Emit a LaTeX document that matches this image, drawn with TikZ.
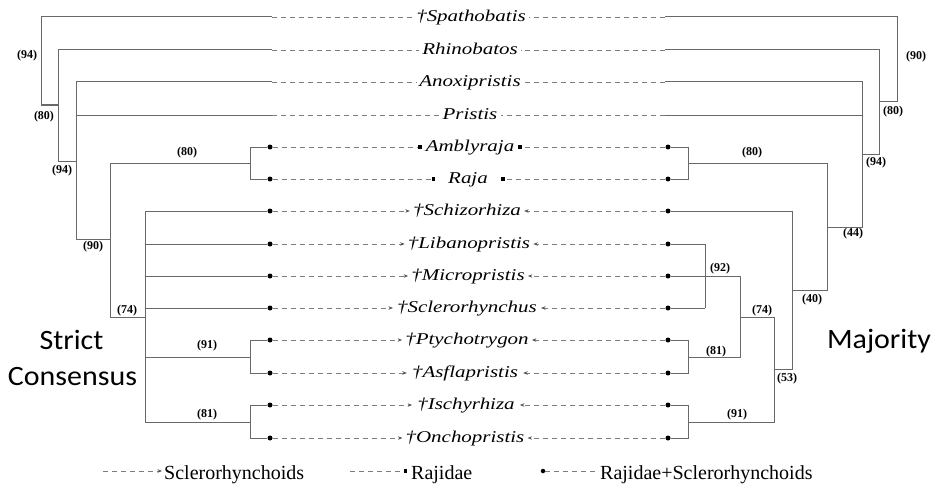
\documentclass[tikz,border=0pt]{standalone}
\usepackage{fontspec}
\setmainfont{Liberation Serif}
\newfontfamily\taxfamily[FakeStretch=1.27]{Liberation Serif}
\newfontfamily\calfamily[FakeStretch=1.07]{Carlito}
\usetikzlibrary{arrows.meta}
\definecolor{treegray}{RGB}{105,105,105}
\definecolor{dashgray}{RGB}{125,125,125}
\begin{document}
\begin{tikzpicture}[x=1pt,y=-1pt,
  tree/.style={draw=treegray, line width=1pt},
  dsh/.style={draw=dashgray, line width=0.8pt, dash pattern=on 5pt off 4pt},
  tax/.style={font=\taxfamily\itshape\fontsize{16.5}{18}\selectfont, anchor=base, inner xsep=3pt, inner ysep=0pt},
  bs/.style={font=\bfseries\fontsize{12}{14}\selectfont, inner sep=0pt},
  dotn/.style={circle, fill=black, inner sep=0pt, minimum size=5pt},
  arr/.style={-{Stealth[length=4.5pt,width=3.5pt,color=treegray!80!black]}},
  sqr/.style={-{Square[length=3.4pt,width=3.4pt,color=black]}},
  big/.style={font=\calfamily\fontsize{28}{30}\selectfont, anchor=base, inner sep=0pt},
  leg/.style={font=\fontsize{20}{22}\selectfont, anchor=base west, inner xsep=2pt, inner ysep=0pt},
]
\useasboundingbox (0,0) rectangle (935,487);

% ---------- taxon names ----------
\node[tax] (n1)  at (471,21.5) {†Spathobatis};
\node[tax] (n2)  at (470,54.5) {Rhinobatos};
\node[tax] (n3)  at (470,86.5) {Anoxipristis};
\node[tax] (n4)  at (470,119.5) {Pristis};
\node[tax, inner xsep=4pt] (n5)  at (470,151.5) {Amblyraja};
\node[tax, inner xsep=13pt] (n6)  at (468,183.5) {Raja};
\node[tax] (n7)  at (467,215.5) {†Schizorhiza};
\node[tax] (n8)  at (469,248.5) {†Libanopristis};
\node[tax] (n9)  at (468,280.5) {†Micropristis};
\node[tax, inner xsep=4pt] (n10) at (467,312.5) {†Sclerorhynchus};
\node[tax] (n11) at (467,344.5) {†Ptychotrygon};
\node[tax, inner xsep=5pt] (n12) at (465,377.5) {†Asflapristis};
\node[tax, inner xsep=5pt] (n13) at (466,409.5) {†Ischyrhiza};
\node[tax] (n14) at (465,442.5) {†Onchopristis};

% ---------- tips ----------
\coordinate (tL1) at (272,17);  \coordinate (tR1) at (665,17);
\coordinate (tL2) at (272,50);  \coordinate (tR2) at (665,50);
\coordinate (tL3) at (272,82);  \coordinate (tR3) at (665,82);
\coordinate (tL4) at (272,115); \coordinate (tR4) at (665,115);
\foreach \i/\y in {5/147,6/179,7/211,8/244,9/276,10/308,11/340,12/373,13/405,14/438}{
  \node[dotn] (dL\i) at (270,\y) {};
  \node[dotn] (dR\i) at (668,\y) {};
}

% ---------- dashed connectors to names ----------
\foreach \i in {1,2,3,4}{
  \draw[dsh] (tL\i) -- (n\i.west |- tL\i);
  \draw[dsh] (tR\i) -- (n\i.east |- tR\i);
}
\foreach \i in {5,6}{
  \draw[dsh, sqr] (dL\i) -- (n\i.west |- dL\i);
  \draw[dsh, sqr] (dR\i) -- (n\i.east |- dR\i);
}
\foreach \i in {7,8,9,10,11,12,13,14}{
  \draw[dsh, arr] (dL\i) -- (n\i.west |- dL\i);
  \draw[dsh, arr] (dR\i) -- (n\i.east |- dR\i);
}

% ---------- strict consensus (left) ----------
\coordinate (Lroot) at (41,105);
\coordinate (Lb) at (58,161);
\coordinate (Lc) at (76,239);
\coordinate (Ld) at (110,317);
\coordinate (Le) at (250,163);
\coordinate (Lf) at (145,422);
\coordinate (Lg) at (250,357);
\coordinate (Lh) at (250,422);
\draw[tree] (tL1) -| (Lroot) -- (Lroot -| Lb);
\draw[tree] (tL2) -| (Lb) -- (Lb -| Lc);
\draw[tree] (tL3) -| (Lc) -- (Lc -| Ld);
\draw[tree] (tL4) -- (tL4 -| Lc);
\draw[tree] (dL5) -| (Le);
\draw[tree] (dL6) -| (Le);
\draw[tree] (Le) -| (Ld) -- (Ld -| Lf);
\draw[tree] (dL7) -| (Lf) -- (Lh);
\draw[tree] (dL8) -- (dL8 -| Lf);
\draw[tree] (dL9) -- (dL9 -| Lf);
\draw[tree] (dL10) -- (dL10 -| Lf);
\draw[tree] (dL11) -| (Lg);
\draw[tree] (dL12) -| (Lg);
\draw[tree] (Lg) -- (Lg -| Lf);
\draw[tree] (dL13) -| (Lh);
\draw[tree] (dL14) -| (Lh);

% ---------- majority (right) ----------
\coordinate (Rroot) at (897,102);
\coordinate (Rb) at (879,154);
\coordinate (Rc) at (862,227);
\coordinate (Rd) at (827,290);
\coordinate (Re) at (688,163);
\coordinate (Rf) at (792,369);
\coordinate (Rg) at (774,422);
\coordinate (Rk) at (705,308);
\coordinate (Rm) at (740,357);
\coordinate (Rn) at (688,357);
\coordinate (Rp) at (740,317);
\coordinate (Rq) at (688,422);
\draw[tree] (tR1) -| (Rroot) -- (Rroot -| Rb);
\draw[tree] (tR2) -| (Rb) -- (Rb -| Rc);
\draw[tree] (tR3) -| (Rc) -- (Rc -| Rd);
\draw[tree] (tR4) -- (tR4 -| Rc);
\draw[tree] (dR5) -| (Re);
\draw[tree] (dR6) -| (Re);
\draw[tree] (Re) -| (Rd) -- (Rd -| Rf);
\draw[tree] (dR7) -| (Rf) -- (Rf -| Rg);
\draw[tree] (dR8) -| (Rk);
\draw[tree] (dR10) -- (Rk);
\draw[tree] (dR9) -| (Rm) -- (Rn);
\draw[tree] (dR11) -| (Rn);
\draw[tree] (dR12) -| (Rn);
\draw[tree] (Rp) -| (Rg) -- (Rq);
\draw[tree] (dR13) -| (Rq);
\draw[tree] (dR14) -| (Rq);

% ---------- support values ----------
\node[bs] (sl1) at (27,56) {(94)};
\node[bs] (sl2) at (44,117) {(80)};
\node[bs] (sl3) at (62,171) {(94)};
\node[bs] (sl4) at (187,153) {(80)};
\node[bs] (sl5) at (93,247) {(90)};
\node[bs] (sl6) at (127,311) {(74)};
\node[bs] (sl7) at (207,346) {(91)};
\node[bs] (sl8) at (207,415) {(81)};
\node[bs] (sr1) at (916,57) {(90)};
\node[bs] (sr2) at (893,112) {(80)};
\node[bs] (sr3) at (876,163) {(94)};
\node[bs] (sr4) at (752,153) {(80)};
\node[bs] (sr5) at (853,234) {(44)};
\node[bs] (sr6) at (812,300) {(40)};
\node[bs] (sr7) at (720,269) {(92)};
\node[bs] (sr8) at (762,311) {(74)};
\node[bs] (sr9) at (716,352) {(81)};
\node[bs] (sr10) at (787,379) {(53)};
\node[bs] (sr11) at (737,415) {(91)};

% ---------- titles ----------
\node[big] (sc1) at (71.5,349) {Strict};
\node[big] (sc2) at (72.5,385) {Consensus};
\node[big] (maj) at (879,348) {Majority};

% ---------- legend ----------
\coordinate (lg1s) at (103,471);
\node[leg] (lg1) at (162,479) {Sclerorhynchoids};
\draw[dsh, arr] (lg1s) -- (lg1.west |- lg1s);
\coordinate (lg2s) at (350,471);
\node[leg, inner xsep=4pt] (lg2) at (407,479) {Rajidae};
\draw[dsh, sqr] (lg2s) -- (lg2.west |- lg2s);
\node[dotn, minimum size=4.5pt] (lg3d) at (543,471) {};
\node[leg, inner xsep=3pt] (lg3) at (597,479) {Rajidae+Sclerorhynchoids};
\draw[dsh] (lg3d) -- (lg3.west |- lg3d);
\end{tikzpicture}
\end{document}
